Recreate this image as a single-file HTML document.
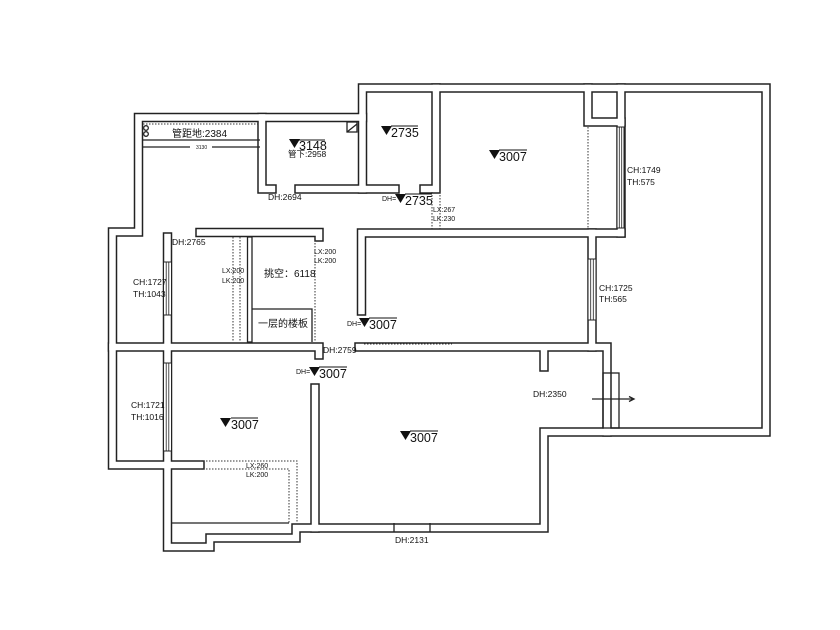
<!DOCTYPE html>
<html><head><meta charset="utf-8"><style>
html,body{margin:0;padding:0;background:#fff}
svg{display:block}
text{font-family:"Liberation Sans","Noto Sans CJK SC",sans-serif;fill:#111}
.s{font-size:8.5px}
.t{font-size:7px}
.l{font-size:12.5px}
.c{font-size:10px}
</style></head><body>
<svg width="840" height="630" viewBox="0 0 840 630" xmlns="http://www.w3.org/2000/svg">
<rect width="840" height="630" fill="#fff"/>
<defs>
<g id="wl">
<path d="M200 465 H112.5 V232 H138.5 V117.5 H362.5 V88 H766 V432 H544 V528 H296 V538 H210 V547 H167.5 V237"/>
<path d="M112.5 347 H319 V355"/>
<path d="M359 347 H607 V432"/>
<path d="M592 347 V233"/>
<path d="M361.5 311 V233 H621"/>
<path d="M621 88 V233"/>
<path d="M588 88 V122 H621"/>
<path d="M544 351 V367"/>
<path d="M436 88 V189 H424"/>
<path d="M395 189 H362.5 V117.5"/>
<path d="M262 117.5 V189 H272"/>
<path d="M299 189 H362.5"/>
<path d="M200 232.5 H319 V237"/>
<path d="M315 388 V528"/>
</g>
</defs>
<g fill="none" stroke-linejoin="miter" stroke-linecap="square">
<use href="#wl" stroke="#222" stroke-width="9.5"/>
<use href="#wl" stroke="#fff" stroke-width="6.5"/>
</g>
<g fill="none" stroke="#222" stroke-width="1.3">
<rect x="247.5" y="237" width="4.5" height="105" fill="#fff"/>
<path d="M252 309 H312 V342"/>
<line x1="143" y1="140" x2="260" y2="140"/>
<line x1="143" y1="147" x2="190" y2="147"/><line x1="212" y1="147" x2="260" y2="147"/>
<circle cx="146" cy="128" r="2.3"/><circle cx="146" cy="134" r="2.3"/>
<rect x="347" y="122" width="10" height="10"/><path d="M347 132 L357 124"/>
<line x1="172" y1="523" x2="289" y2="523"/>
<line x1="394" y1="523" x2="394" y2="532"/><line x1="430" y1="523" x2="430" y2="532"/>
<rect x="603" y="373" width="16" height="55"/>
<line x1="592" y1="399" x2="633" y2="399"/>
<path d="M629 396.5 L634 399 L629 401.5"/>
</g>
<g fill="#fff" stroke="#222" stroke-width="1">
<rect x="163.5" y="262" width="8" height="53"/><rect x="163.5" y="363" width="8" height="88"/>
<rect x="588" y="259" width="8" height="61"/><rect x="617" y="127" width="7" height="101"/>
</g>
<g stroke="#222" stroke-width="0.8">
<line x1="166.2" y1="262" x2="166.2" y2="315"/><line x1="168.8" y1="262" x2="168.8" y2="315"/>
<line x1="166.2" y1="363" x2="166.2" y2="451"/><line x1="168.8" y1="363" x2="168.8" y2="451"/>
<line x1="590.7" y1="259" x2="590.7" y2="320"/><line x1="593.3" y1="259" x2="593.3" y2="320"/>
<line x1="619.3" y1="127" x2="619.3" y2="228"/><line x1="621.7" y1="127" x2="621.7" y2="228"/>
</g>
<g fill="none" stroke="#333" stroke-width="1" stroke-dasharray="1.5 1.5">
<line x1="143" y1="124" x2="260" y2="124"/>
<line x1="588" y1="127" x2="588" y2="229"/>
<line x1="432" y1="192" x2="432" y2="229"/><line x1="440" y1="192" x2="440" y2="229"/>
<line x1="233" y1="237" x2="233" y2="342"/><line x1="240" y1="237" x2="240" y2="342"/>
<line x1="315" y1="237" x2="315" y2="342"/>
<line x1="364" y1="344" x2="452" y2="344"/>
<path d="M200 461 H297 V523"/><path d="M200 469 H289 V523"/>
</g>
<text x="172" y="137" class="c">管距地:2384</text>
<text x="196" y="149" class="t" style="font-size:5px">3130</text>
<g class="l">
<path d="M289 139 h11 l-5.5 9z" fill="#111"/><text x="299" y="150">3148</text><line x1="299" y1="140" x2="325" y2="140" stroke="#111"/>
<path d="M381 126 h11 l-5.5 9z" fill="#111"/><text x="391" y="137">2735</text><line x1="391" y1="126" x2="418" y2="126" stroke="#111"/>
<path d="M489 150 h11 l-5.5 9z" fill="#111"/><text x="499" y="161">3007</text><line x1="499" y1="150" x2="527" y2="150" stroke="#111"/>
<path d="M395 194 h11 l-5.5 9z" fill="#111"/><text x="405" y="205">2735</text><line x1="405" y1="194" x2="432" y2="194" stroke="#111"/>
<path d="M359 318 h11 l-5.5 9z" fill="#111"/><text x="369" y="329">3007</text><line x1="369" y1="318" x2="397" y2="318" stroke="#111"/>
<path d="M309 367 h11 l-5.5 9z" fill="#111"/><text x="319" y="378">3007</text><line x1="319" y1="367" x2="347" y2="367" stroke="#111"/>
<path d="M220 418 h11 l-5.5 9z" fill="#111"/><text x="231" y="429">3007</text><line x1="231" y1="418" x2="258" y2="418" stroke="#111"/>
<path d="M400 431 h11 l-5.5 9z" fill="#111"/><text x="410" y="442">3007</text><line x1="410" y1="431" x2="438" y2="431" stroke="#111"/>
</g>
<text x="288" y="157" class="s">管下:2958</text>
<text x="268" y="200" class="s">DH:2694</text>
<text x="382" y="201" class="t">DH=</text>
<text x="433" y="212" class="t">LX:267</text><text x="433" y="221" class="t">LK:230</text>
<text x="627" y="173" class="s">CH:1749</text><text x="627" y="185" class="s">TH:575</text>
<text x="172" y="245" class="s">DH:2765</text>
<text x="222" y="273" class="t">LX:200</text><text x="222" y="283" class="t">LK:200</text>
<text x="314" y="254" class="t">LX:200</text><text x="314" y="263" class="t">LK:200</text>
<text x="264" y="277" class="c">挑空：6118</text>
<text x="133" y="285" class="s">CH:1727</text><text x="133" y="297" class="s">TH:1043</text>
<text x="599" y="291" class="s">CH:1725</text><text x="599" y="302" class="s">TH:565</text>
<text x="258" y="327" class="c">一层的楼板</text>
<text x="347" y="326" class="t">DH=</text>
<text x="323" y="353" class="s">DH:2759</text>
<text x="296" y="374" class="t">DH=</text>
<text x="533" y="397" class="s">DH:2350</text>
<text x="131" y="408" class="s">CH:1721</text><text x="131" y="420" class="s">TH:1016</text>
<text x="246" y="468" class="t">LX:260</text><text x="246" y="477" class="t">LK:200</text>
<text x="395" y="543" class="s">DH:2131</text>
</svg>
</body></html>
